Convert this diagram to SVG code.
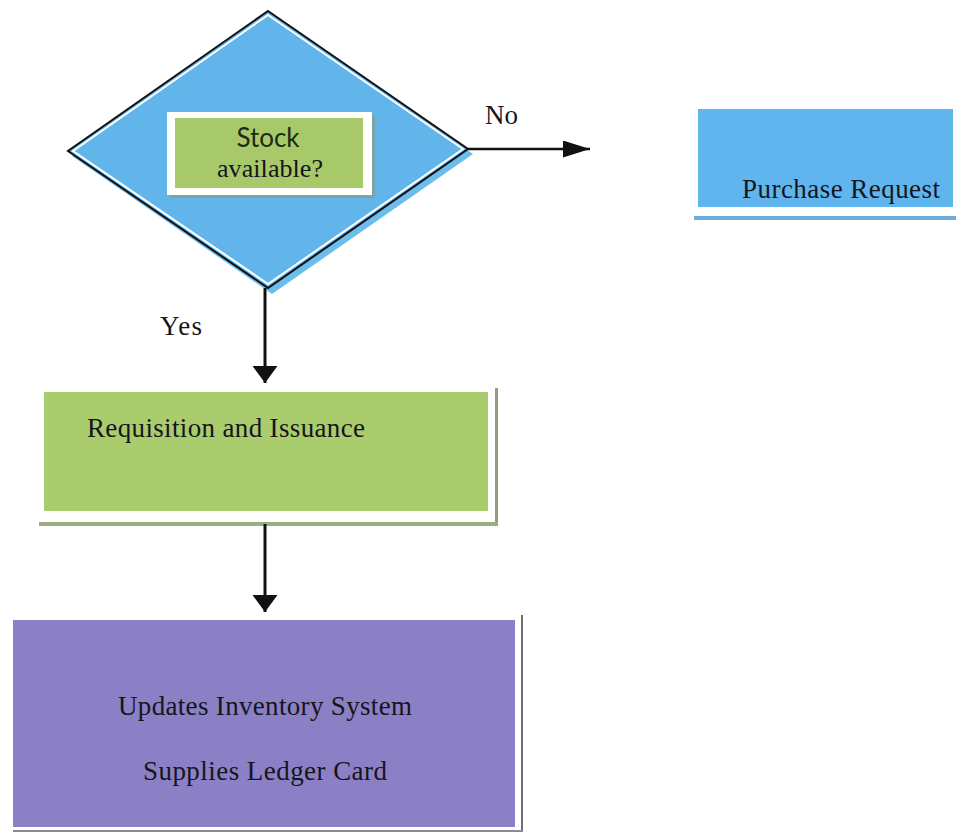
<svg xmlns="http://www.w3.org/2000/svg" width="956" height="834" viewBox="0 0 956 834">
  <style>
    .label { font-family: "Liberation Serif", "Times New Roman", serif; font-size: 27px; fill: #15151c; }
    .sans { font-family: Lato, "Open Sans", "Liberation Sans", sans-serif; font-size: 26px; fill: #1f2a14; }
    .conn { stroke: #111; stroke-width: 3; fill: none; }
  </style>
  <defs>
    <marker id="arrow-down" viewBox="0 0 17 25" refX="17" refY="12.5" markerWidth="17" markerHeight="25" markerUnits="userSpaceOnUse" orient="auto">
      <path d="M0,0 L17,12.5 L0,25 z" fill="#111"/>
    </marker>
    <marker id="arrow-side" viewBox="0 0 27 17" refX="27" refY="8.5" markerWidth="27" markerHeight="17" markerUnits="userSpaceOnUse" orient="auto">
      <path d="M0,0 L27,8.5 L0,17 z" fill="#111"/>
    </marker>
  </defs>
  <rect width="956" height="834" fill="#ffffff"/>

  <!-- Decision: stock available? -->
  <g id="decision">
    <polygon points="272,16 473,154 272,294 72,156" fill="#6cbcec"/>
    <polygon points="268,11 468,149 268,288 68,151" fill="#62b5ea" stroke="#111" stroke-width="2"/>
    <polygon points="268,15 463,149 268,284 73,151" fill="none" stroke="#ffffff" stroke-width="2"/>
    <rect x="170" y="115" width="205" height="83" fill="#8a9a78" opacity="0.6"/>
    <rect x="167" y="112" width="205" height="83" fill="#ffffff"/>
    <rect x="175" y="118" width="188" height="70" fill="#a8c96a"/>
    <text class="sans" x="268" y="147" text-anchor="middle">Stock</text>
    <text class="label" x="270" y="177" text-anchor="middle" textLength="106" style="font-size:26px">available?</text>
  </g>

  <!-- Purchase request -->
  <g id="purchase">
    <rect x="698" y="109" width="255" height="98" fill="#60b5ee"/>
    <rect x="694" y="216" width="262" height="4" fill="#6aacdc"/>
    <text class="label" x="742" y="198" textLength="198">Purchase Request</text>
  </g>

  <!-- Requisition and issuance -->
  <g id="requisition">
    <rect x="44" y="392" width="444" height="119" fill="#a9cc6c"/>
    <rect x="495" y="388" width="3" height="136" fill="#8f9c86"/>
    <rect x="39" y="522" width="459" height="4" fill="#9cae80"/>
    <text class="label" x="87" y="437" textLength="278">Requisition and Issuance</text>
  </g>

  <!-- Inventory update -->
  <g id="inventory">
    <rect x="13" y="620" width="502" height="207" fill="#8b80c6"/>
    <rect x="521" y="615" width="2" height="217" fill="#6e6e7a"/>
    <rect x="13" y="830" width="510" height="2" fill="#8a8a96"/>
    <text class="label" x="265" y="715" text-anchor="middle" textLength="294">Updates Inventory System</text>
    <text class="label" x="265" y="780" text-anchor="middle" textLength="244">Supplies Ledger Card</text>
  </g>

  <!-- Connectors -->
  <g id="connectors">
    <line class="conn" x1="468" y1="149" x2="590" y2="149" marker-end="url(#arrow-side)" style="stroke-width:2.5"/>
    <line class="conn" x1="265" y1="288" x2="265" y2="383" marker-end="url(#arrow-down)"/>
    <line class="conn" x1="265" y1="524" x2="265" y2="612" marker-end="url(#arrow-down)"/>
    <text class="label" x="485" y="124" textLength="33">No</text>
    <text class="label" x="160" y="335" textLength="42">Yes</text>
  </g>
</svg>
